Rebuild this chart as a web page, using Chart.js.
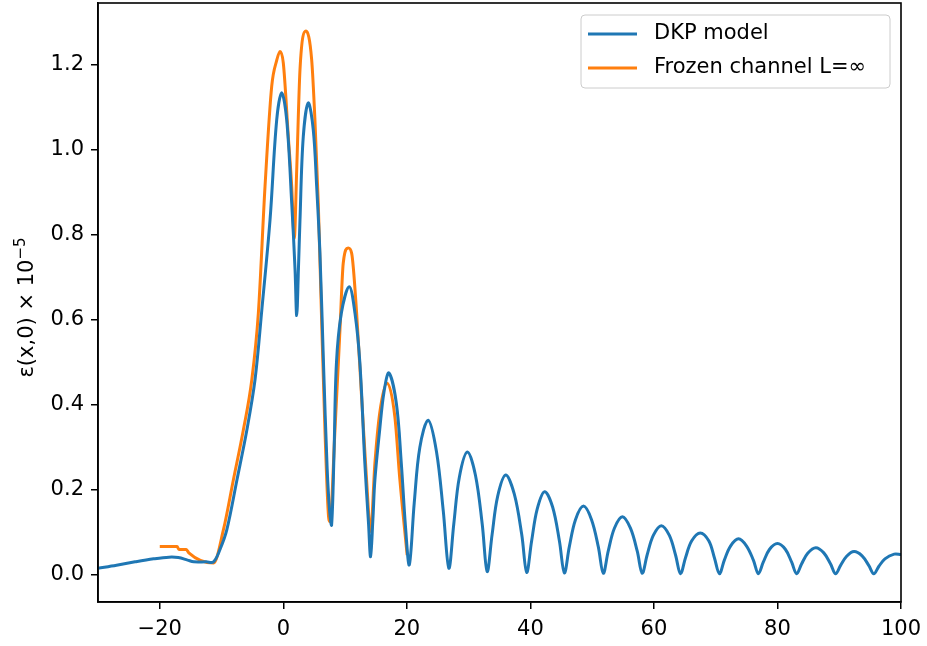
<!DOCTYPE html>
<html>
<head>
<meta charset="utf-8">
<script src="https://cdn.jsdelivr.net/npm/chart.js@4.4.0/dist/chart.umd.min.js"></script>
<style>
  html, body { margin: 0; padding: 0; background: #fff; }
  #wrap { width: 927px; height: 646px; }
</style>
</head>
<body>
<div id="wrap"><canvas id="chart" width="927" height="646"></canvas></div>
<script>
// values
const dkpX = [-30, -27, -24, -21, -18.5, -17, -15.5, -14.5, -12.5, -11.3, -10.2, -9.15, -7.5, -5.9, -4.58, -3.5, -2.15, -1.07, -0.26, 0.55, 1.36, 1.9, 2.17, 2.45, 2.7, 3.23, 4.04, 4.85, 5.4, 5.93, 6.5, 7.1, 7.5, 7.82, 8.2, 8.6, 9.4, 10.67, 11.6, 12.4, 13.2, 13.8, 14.13, 14.5, 14.83, 15.6, 16.3, 17.09, 18.3, 19.1, 19.8, 20.4,
  21.2, 22.1, 23.45, 24.8, 25.9, 26.8,
  27.6, 28.5, 29.8, 31.1, 32.2, 33.0,
  33.8, 34.7, 36.0, 37.4, 38.6, 39.4,
  40.2, 41.1, 42.3, 43.6, 44.7, 45.5,
  46.3, 47.3, 48.6, 49.9, 51.0, 51.8,
  52.6, 53.6, 54.9, 56.2, 57.3, 58.1,
  58.9, 59.9, 61.2, 62.5, 63.5, 64.3,
  65.1, 66.1, 67.5, 68.9, 69.8, 70.6,
  71.4, 72.4, 73.7, 75.0, 76.1, 76.9,
  77.7, 78.7, 80.0, 81.3, 82.3, 83.1,
  83.9, 84.9, 86.2, 87.5, 88.6, 89.4,
  90.2, 91.2, 92.4, 93.7, 94.8, 95.6,
  96.4, 97.4, 98.9, 100];
const dkpY = [0.016, 0.023, 0.031, 0.038, 0.042, 0.041, 0.035, 0.031, 0.031, 0.031, 0.062, 0.106, 0.224, 0.341, 0.459, 0.62, 0.835, 1.07, 1.134, 1.07, 0.875, 0.718, 0.61, 0.72, 0.835, 1.03, 1.11, 1.047, 0.914, 0.757, 0.5, 0.25, 0.15, 0.118, 0.28, 0.498, 0.616, 0.678, 0.616, 0.498, 0.263, 0.12, 0.043, 0.13, 0.224, 0.341, 0.43, 0.475, 0.404, 0.263, 0.11, 0.024,
  0.17, 0.30, 0.364, 0.29, 0.15, 0.016,
  0.12, 0.23, 0.289, 0.235, 0.12, 0.008,
  0.095, 0.185, 0.235, 0.19, 0.095, 0.006,
  0.08, 0.155, 0.196, 0.16, 0.08, 0.005,
  0.066, 0.13, 0.162, 0.13, 0.066, 0.004,
  0.056, 0.11, 0.137, 0.11, 0.056, 0.004,
  0.047, 0.093, 0.116, 0.093, 0.047, 0.003,
  0.04, 0.08, 0.099, 0.08, 0.04, 0.003,
  0.035, 0.068, 0.085, 0.068, 0.035, 0.003,
  0.03, 0.06, 0.074, 0.06, 0.03, 0.003,
  0.026, 0.051, 0.064, 0.052, 0.026, 0.003,
  0.022, 0.044, 0.055, 0.045, 0.022, 0.003,
  0.02, 0.038, 0.049, 0.048];

const frozenX = [-20, -17.2, -16.9, -15.7, -15.3, -11.3, -9.7, -8.08, -6.47, -5.1, -4.04, -2.96, -1.88, -1.07, -0.53, 0, 0.81, 1.36, 1.78, 2.17, 2.7, 3.67, 4.59, 5.12, 5.66, 6.2, 6.74, 7.28, 7.55, 8.36, 9.17, 9.7, 10.5, 11.06, 11.87, 12.67, 13.48, 14.13, 14.83, 15.6, 16.8, 18.06, 18.87, 20.05];
const frozenY = [0.067, 0.067, 0.06, 0.06, 0.052, 0.028, 0.106, 0.224, 0.341, 0.459, 0.616, 0.914, 1.149, 1.21, 1.231, 1.204, 1.031, 0.914, 0.792, 0.953, 1.188, 1.279, 1.212, 1.07, 0.875, 0.6, 0.341, 0.146, 0.125, 0.34, 0.576, 0.733, 0.769, 0.757, 0.616, 0.42, 0.224, 0.102, 0.263, 0.38, 0.451, 0.372, 0.224, 0.047];

const seriesNames = ['DKP model', 'Frozen channel L=\u221E'];
const seriesColors = ['#1f77b4', '#ff7f0e'];
const xTickVals = [-20, 0, 20, 40, 60, 80, 100];
const yTickVals = [0.0, 0.2, 0.4, 0.6, 0.8, 1.0, 1.2];
// y label: main part, then the superscript
const yLabelMain = '\u03B5(x,0) \u00D7 10';
const yLabelSup = '\u22125';

const FONT = 'DejaVu Sans';
const FS = 21;

function pts(xs, ys) { return xs.map((x, i) => ({ x: x, y: ys[i] })); }

// full box around the axes, like matplotlib spines
const frame = {
  id: 'frame',
  afterDatasetsDraw(chart) {
    const a = chart.chartArea, ctx = chart.ctx;
    ctx.save();
    ctx.strokeStyle = '#000';
    ctx.lineWidth = 1.6;
    ctx.strokeRect(a.left, a.top, a.right - a.left, a.bottom - a.top);
    ctx.restore();
  }
};

// rotated y label with a real superscript
const yTitle = {
  id: 'yTitle',
  afterDraw(chart) {
    const a = chart.chartArea, ctx = chart.ctx;
    ctx.save();
    ctx.fillStyle = '#000';
    ctx.textBaseline = 'alphabetic';
    ctx.font = FS + 'px "' + FONT + '"';
    const w1 = ctx.measureText(yLabelMain).width;
    ctx.font = Math.round(FS * 0.7) + 'px "' + FONT + '"';
    const w2 = ctx.measureText(yLabelSup).width;
    const total = w1 + w2;
    ctx.translate(33, (a.top + a.bottom) / 2 + 5);
    ctx.rotate(-Math.PI / 2);
    ctx.font = FS + 'px "' + FONT + '"';
    ctx.fillText(yLabelMain, -total / 2, 0);
    ctx.font = Math.round(FS * 0.7) + 'px "' + FONT + '"';
    ctx.fillText(yLabelSup, -total / 2 + w1, -8);
    ctx.restore();
  }
};

// legend inside the upper right corner
const legendBox = {
  id: 'legendBox',
  afterDraw(chart) {
    const a = chart.chartArea, ctx = chart.ctx;
    const w = 309, h = 73;
    const x0 = a.right - 11 - w, y0 = a.top + 12;
    ctx.save();
    ctx.beginPath();
    ctx.roundRect(x0, y0, w, h, 4);
    ctx.fillStyle = 'rgba(255,255,255,0.8)';
    ctx.fill();
    ctx.strokeStyle = '#cccccc';
    ctx.lineWidth = 1;
    ctx.stroke();
    ctx.font = FS + 'px "' + FONT + '"';
    ctx.textBaseline = 'middle';
    chart.data.datasets.forEach((ds, i) => {
      const y = y0 + 19 + i * 34;
      ctx.strokeStyle = ds.borderColor;
      ctx.lineWidth = 3;
      ctx.beginPath();
      ctx.moveTo(x0 + 7, y);
      ctx.lineTo(x0 + 56, y);
      ctx.stroke();
      ctx.fillStyle = '#000';
      ctx.fillText(ds.label, x0 + 73, y);
    });
    ctx.restore();
  }
};

new Chart(document.getElementById('chart'), {
  type: 'line',
  data: {
    datasets: [
      { label: seriesNames[0], data: pts(dkpX, dkpY), borderColor: seriesColors[0], borderWidth: 3, pointRadius: 0, tension: 0.35, fill: false },
      { label: seriesNames[1], data: pts(frozenX, frozenY), borderColor: seriesColors[1], borderWidth: 3, pointRadius: 0, cubicInterpolationMode: 'monotone', fill: false }
    ]
  },
  options: {
    responsive: false,
    animation: false,
    devicePixelRatio: 1,
    layout: { padding: { top: 3, right: 26, left: 0, bottom: 0 } },
    plugins: { legend: { display: false }, tooltip: { enabled: false } },
    scales: {
      x: {
        type: 'linear', min: -30, max: 100,
        afterBuildTicks: s => { s.ticks = xTickVals.map(v => ({ value: v })); },
        afterFit: s => { s.height = 44; s.paddingLeft = 0; s.paddingRight = 0; },
        grid: { display: true, drawOnChartArea: false, drawTicks: true, tickLength: 7, color: '#000', lineWidth: 1.5 },
        border: { display: true, color: '#000', width: 1.6 },
        ticks: {
          color: '#000', font: { family: FONT, size: FS }, padding: 8, maxRotation: 0,
          callback: v => (v < 0 ? '\u2212' : '') + Math.abs(v)
        }
      },
      y: {
        type: 'linear', min: -0.0635, max: 1.345,
        afterBuildTicks: s => { s.ticks = yTickVals.map(v => ({ value: v })); },
        afterFit: s => { s.width = 98; s.paddingTop = 0; s.paddingBottom = 0; },
        grid: { display: true, drawOnChartArea: false, drawTicks: true, tickLength: 7, color: '#000', lineWidth: 1.5 },
        border: { display: true, color: '#000', width: 1.6 },
        ticks: { color: '#000', font: { family: FONT, size: FS }, padding: 7, callback: v => v.toFixed(1) }
      }
    }
  },
  plugins: [frame, yTitle, legendBox]
});
</script>
</body>
</html>
